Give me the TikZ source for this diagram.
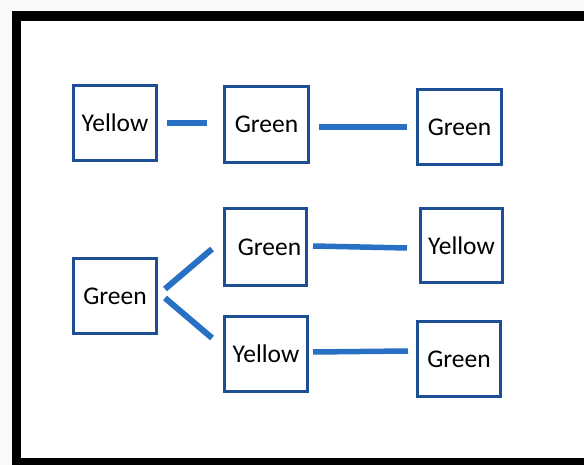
\documentclass[tikz,border=0pt]{standalone}
\usepackage{fontspec}
\setmainfont{Carlito}
\usetikzlibrary{calc}
\definecolor{boxblue}{RGB}{30,78,150}
\definecolor{linkblue}{RGB}{40,112,196}
\definecolor{paper}{RGB}{250,250,250}
\tikzset{
  state/.style={draw=boxblue, line width=3pt, fill=white, minimum width=83pt,
    minimum height=75pt, inner sep=0pt, font=\fontsize{25.5}{28}\selectfont},
  link/.style={draw=linkblue, line width=5.5pt, line cap=butt},
  branch/.style={draw=linkblue, line width=6pt, line cap=butt}
}
\begin{document}
\begin{tikzpicture}[x=1pt,y=-1pt]
  \useasboundingbox (0,0) rectangle (584,465);
  % frame
  \fill[paper] (0,0) rectangle (584,465);
  \fill[black] (12,11) rectangle (584,465);
  \fill[white] (21,21) rectangle (584,458);

  % top row
  \node[state, minimum width=83pt, minimum height=75pt] (g1) at (115,123) {Yellow};
  \node[state, minimum width=84pt, minimum height=76pt] (g2) at (266.5,124.5) {Green};
  \node[state, minimum width=84pt, minimum height=75pt] (g3) at (459.5,127) {Green};

  % branching rows
  \node[state, minimum width=83pt, minimum height=75pt] (g4) at (115,296) {Green};
  \node[state, minimum width=82pt, minimum height=77pt] (g5) at (265.5,247) {\hspace*{8pt}Green};
  \node[state, minimum width=83pt, minimum height=75pt] (g6) at (266,354) {Yellow};
  \node[state, minimum width=82pt, minimum height=74pt] (g7) at (461.5,245.5) {Yellow};
  \node[state, minimum width=83pt, minimum height=75pt] (g8) at (459,359) {Green};

  % connectors
  \draw[link] ($(g1.east)+(9,0)$) -- ($(g2.west)+(-16,-1.5)$);
  \draw[link] ($(g2.east)+(9,2.5)$) -- ($(g3.west)+(-9,0)$);
  \draw[branch] ($(g4.east)+(7,-7)$) -- ($(g5.west)+(-11,2)$);
  \draw[branch] ($(g4.east)+(7,2)$) -- ($(g6.west)+(-11,-16)$);
  \draw[link] ($(g5.east)+(5,-1)$) -- ($(g7.west)+(-12,2.5)$);
  \draw[link] ($(g6.east)+(4,-2)$) -- ($(g8.west)+(-8,-8)$);
\end{tikzpicture}
\end{document}
